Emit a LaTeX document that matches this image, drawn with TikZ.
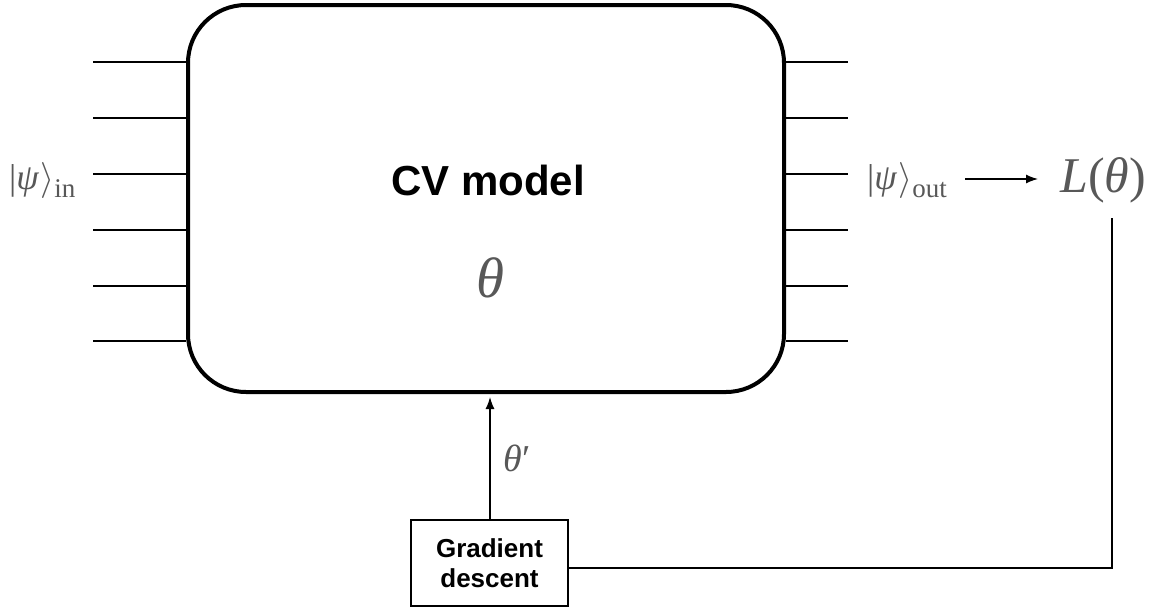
\RequirePackage{fix-cm}
\documentclass[tikz,border=0pt]{standalone}
\usepackage{fontspec}
\setmainfont{Liberation Serif}
\setsansfont{Liberation Sans}
\usetikzlibrary{arrows.meta}
\definecolor{mathgray}{HTML}{585858}
\newcommand{\ketx}[1]{|\textit{ψ}\kern1pt$\rangle$\raisebox{-8pt}{\fontsize{27}{30}\selectfont #1}}
\begin{document}
\begin{tikzpicture}[x=1pt,y=-1pt,
  wire/.style={line width=1.3pt},
  mtext/.style={text=mathgray, inner sep=0pt},
  arr/.style={line width=1.3pt,-{Latex[length=12pt,width=9pt]}}]
\useasboundingbox (0,0) rectangle (1154,608);
\node[draw, line width=4pt, rounded corners=58pt, minimum width=596pt, minimum height=387pt] (cv) at (486,198.5) {};
\node[font=\sffamily\bfseries\fontsize{42}{48}\selectfont, inner sep=0pt] (title) at (488,180) {CV model};
\node[mtext, font=\fontsize{57}{62}\selectfont\itshape] (th) at (490,278) {θ};
\foreach \y [count=\i] in {62,118,174,230,286,341} {
  \coordinate (l\i) at (93,\y);
  \coordinate (r\i) at (848,\y);
  \draw[wire] (l\i) -- (cv.west |- l\i);
  \draw[wire] (cv.east |- r\i) -- (r\i);
}
\node[mtext, font=\fontsize{36}{40}\selectfont, anchor=west] (psiin) at (9,180) {\ketx{in}};
\node[mtext, font=\fontsize{36}{40}\selectfont, anchor=west] (psiout) at (867,180) {\ketx{out}};
\node[mtext, font=\fontsize{50}{56}\selectfont, anchor=west] (loss) at (1060,180) {\textit{L}(\textit{θ})};
\coordinate (a0) at (965,179);
\draw[arr] (a0) -- (1038,179);
\node[draw, line width=1.5pt, minimum width=157pt, minimum height=86pt, align=center, font=\sffamily\bfseries\fontsize{26}{30}\selectfont] (gd) at (489.5,563) {Gradient\\descent};
\draw[arr] (gd.north -| 490,0) -- (490,397);
\node[mtext, font=\fontsize{38}{42}\selectfont] (thp) at (517,458) {\textit{θ}′};
\coordinate (corner) at (1112,568);
\draw[wire] (gd.east |- corner) -- (corner) -- (1112,218);
\end{tikzpicture}
\end{document}
